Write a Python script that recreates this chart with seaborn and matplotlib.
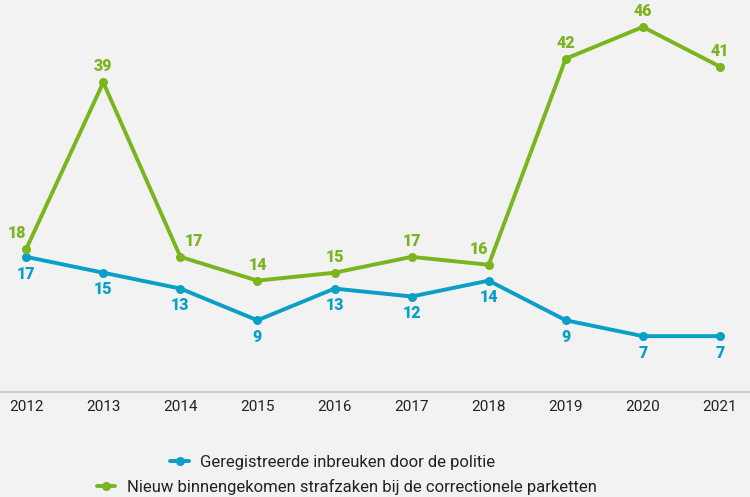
import numpy as np
import pandas as pd
import matplotlib
matplotlib.use("Agg")
import matplotlib.pyplot as plt
from matplotlib.lines import Line2D
import seaborn as sns

# data
years = [2012, 2013, 2014, 2015, 2016, 2017, 2018, 2019, 2020, 2021]
politie = [17, 15, 13, 9, 13, 12, 14, 9, 7, 7]
parketten = [18, 39, 17, 14, 15, 17, 16, 42, 46, 41]

label_politie = "Geregistreerde inbreuken door de politie"
label_parketten = "Nieuw binnengekomen strafzaken bij de correctionele parketten"

BLUE = "#0a9fc6"
GREEN = "#7ab51d"
BG = "#f2f2f2"

# horizontal nudges for green labels so they clear the line
green_dx = {2012: -7, 2014: 10, 2018: -7}

sns.set_theme(style="white")
plt.rcParams['font.family'] = ['Roboto', 'DejaVu Sans']

df = pd.DataFrame({
    "jaar": years * 2,
    "aantal": politie + parketten,
    "reeks": [label_politie] * len(years) + [label_parketten] * len(years),
})

fig = plt.figure(figsize=(7.5, 4.97), dpi=100, facecolor=BG)
ax = fig.add_axes([0, 0.212, 1, 0.788])
ax.set_facecolor(BG)

sns.lineplot(data=df, x="jaar", y="aantal", hue="reeks",
             palette={label_politie: BLUE, label_parketten: GREEN},
             marker="o", markersize=6.5, markeredgewidth=0, linewidth=2.8,
             ax=ax, legend=False)

# value labels
for x, y in zip(years, politie):
    ax.annotate(str(y), (x, y), xytext=(0, -12), textcoords="offset points",
                ha="center", va="center", color=BLUE, fontsize=11.5, fontweight="heavy")
for x, y in zip(years, parketten):
    ax.annotate(str(y), (x, y), xytext=(green_dx.get(x, 0), 11.5), textcoords="offset points",
                ha="center", va="center", color=GREEN, fontsize=11.5, fontweight="heavy")

ax.set_xlim(2011.66, 2021.39)
ax.set_ylim(0, 49.4)
ax.set_xticks(years)
ax.set_xticklabels([str(y) for y in years], fontsize=11, color="#222222")
ax.set_yticks([])
ax.set_xlabel("")
ax.set_ylabel("")
ax.tick_params(axis="x", length=0, pad=6)
for s in ["top", "right", "left"]:
    ax.spines[s].set_visible(False)
ax.spines["bottom"].set_color("#c8c8c8")
ax.spines["bottom"].set_linewidth(1.2)

# legend: each entry centered on its own row
h1 = Line2D([], [], color=BLUE, marker="o", markersize=6.5, markeredgewidth=0, linewidth=2.8)
h2 = Line2D([], [], color=GREEN, marker="o", markersize=6.5, markeredgewidth=0, linewidth=2.8)
leg1 = fig.legend([h1], [label_politie], loc="center", bbox_to_anchor=(0.444, 0.070),
                  frameon=False, fontsize=12, handlelength=1.1, handletextpad=0.7)
leg2 = fig.legend([h2], [label_parketten], loc="center", bbox_to_anchor=(0.462, 0.020),
                  frameon=False, fontsize=12, handlelength=1.1, handletextpad=0.7)
for t in leg1.get_texts() + leg2.get_texts():
    t.set_color("#222222")

fig.savefig("out.png", dpi=100, facecolor=BG)
